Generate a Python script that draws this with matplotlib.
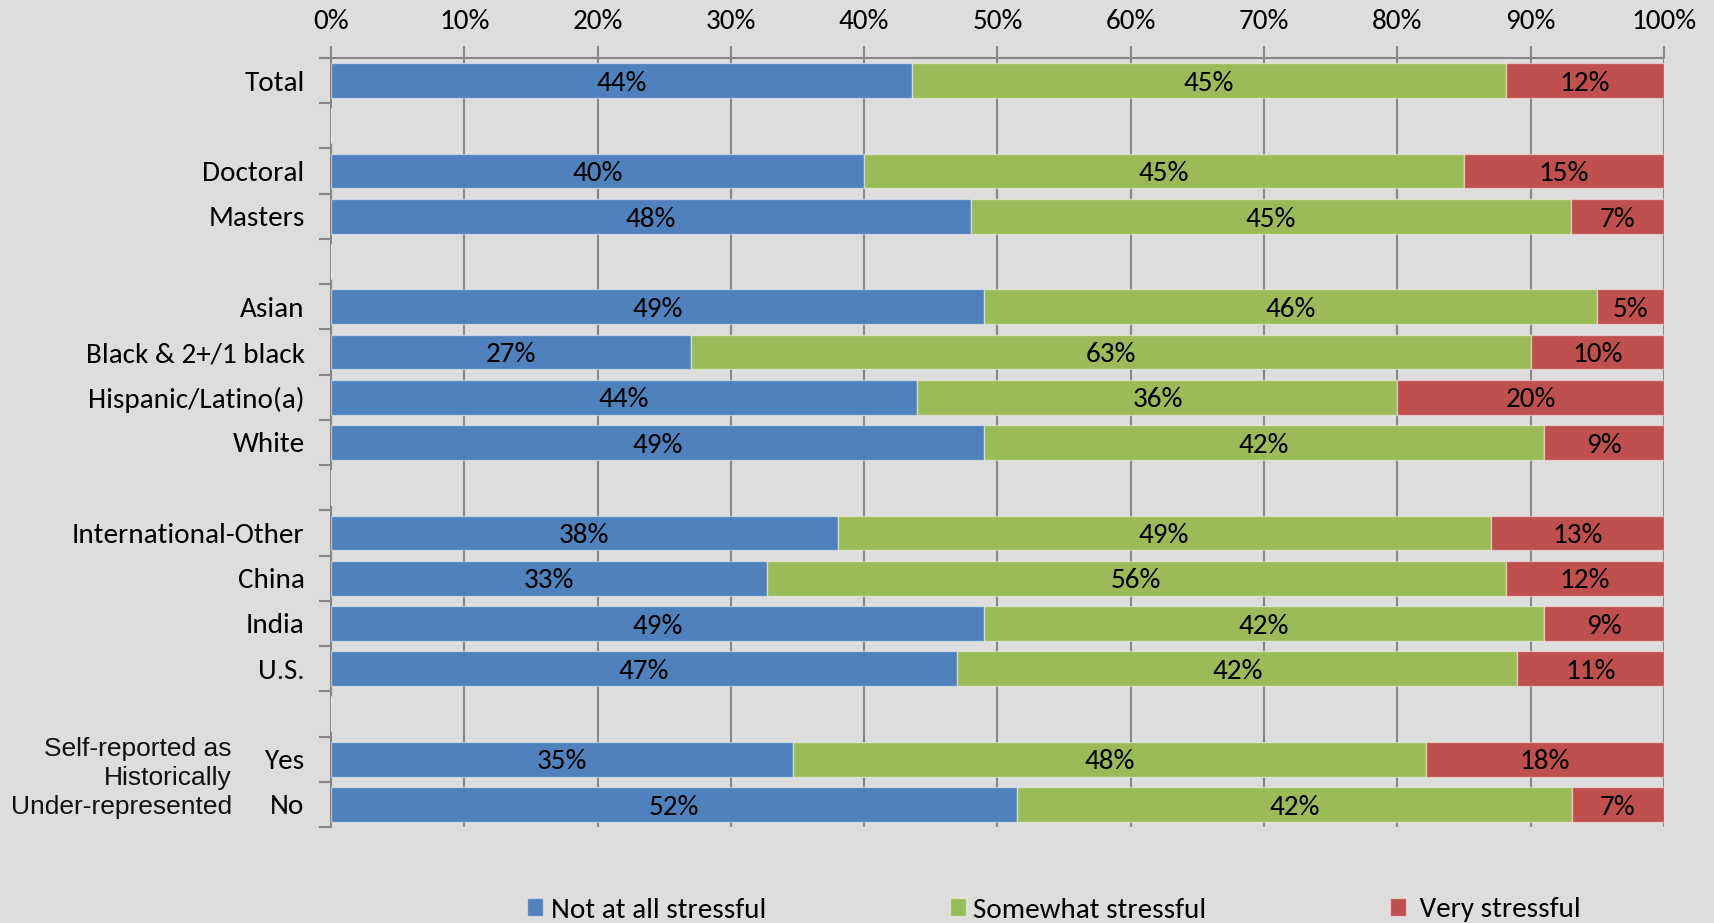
import matplotlib
matplotlib.use("Agg")
import matplotlib.pyplot as plt
import numpy as np

# Survey groups, top to bottom (blank strings are spacer rows)
groups = ["Total", "", "Doctoral", "Masters", "", "Asian", "Black & 2+/1 black",
          "Hispanic/Latino(a)", "White", "", "International-Other", "China",
          "India", "U.S.", "", "Yes", "No"]

# Percent of respondents per response level (NaN for spacer rows)
not_at_all = [44, np.nan, 40, 48, np.nan, 49, 27, 44, 49, np.nan, 38, 33, 49, 47, np.nan, 35, 52]
somewhat = [45, np.nan, 45, 45, np.nan, 46, 63, 36, 42, np.nan, 49, 56, 42, 42, np.nan, 48, 42]
very = [12, np.nan, 15, 7, np.nan, 5, 10, 20, 9, np.nan, 13, 12, 9, 11, np.nan, 18, 7]

series_names = ["Not at all stressful", "Somewhat stressful", " Very stressful"]
series_colors = ["#4F81BD", "#9BBB59", "#C0504D"]
x_ticks = [0, 10, 20, 30, 40, 50, 60, 70, 80, 90, 100]
group_note = "Self-reported as\nHistorically\nUnder-represented"

BG = "#DDDDDD"
AXIS_GRAY = "#868686"
FS = 21
FONT = ["Carlito", "Lato", "DejaVu Sans"]
plt.rcParams["font.family"] = FONT

fig = plt.figure(figsize=(17.14, 9.23), dpi=100, facecolor=BG)
ax = fig.add_axes([0.1931, 0.104, 0.7777, 0.8332], facecolor=BG)

values = np.array([not_at_all, somewhat, very], dtype=float)
totals = np.nansum(values, axis=0)
shares = np.where(totals > 0, values / np.where(totals > 0, totals, 1) * 100, np.nan)

y = np.arange(len(groups))
left = np.zeros(len(groups))
handles = []
for k in range(3):
    w = np.nan_to_num(shares[k])
    bars = ax.barh(y, w, left=left, height=0.77, color=series_colors[k],
                   edgecolor=(1, 1, 1, 0.45), linewidth=1, zorder=3,
                   label=series_names[k])
    handles.append(bars)
    for i in range(len(groups)):
        if not np.isnan(values[k][i]):
            ax.text(left[i] + w[i] / 2, y[i] + 0.06, f"{values[k][i]:.0f}%",
                    ha="center", va="center", fontsize=FS, color="black", zorder=4)
    left = left + w

ax.set_xlim(0, 100)
ax.set_ylim(len(groups) - 0.5, -0.5)

# Percent axis along the top
ax.xaxis.tick_top()
ax.set_xticks(x_ticks)
ax.set_xticklabels([f"{t}%" for t in x_ticks], fontsize=FS)
ax.tick_params(axis="x", direction="out", length=9, width=1.5, color=AXIS_GRAY,
               pad=8, labelcolor="black")
ax.grid(axis="x", color=AXIS_GRAY, linewidth=1.5, zorder=1)

# Category labels at bar centres, tick marks at category boundaries
ax.set_yticks(y)
ax.set_yticklabels(groups, fontsize=FS)
ax.tick_params(axis="y", which="major", length=0, pad=19, labelcolor="black")
ax.set_yticks(np.arange(len(groups) + 1) - 0.5, minor=True)
ax.tick_params(axis="y", which="minor", direction="out", length=9, width=1.5,
               color=AXIS_GRAY)

for side in ["right", "bottom"]:
    ax.spines[side].set_visible(False)
for side in ["top", "left"]:
    ax.spines[side].set_color(AXIS_GRAY)
    ax.spines[side].set_linewidth(1.5)

fig.text(232 / 1714, 1 - 778 / 923, group_note, ha="right", va="center",
         fontsize=19, family=["Liberation Sans", "DejaVu Sans"],
         linespacing=1.26, color="#111111")

leg = fig.legend(handles=handles, loc="center", ncol=3, frameon=False,
                 bbox_to_anchor=(0.615, 1 - 910 / 923), fontsize=FS,
                 handlelength=0.55, handleheight=0.6, handletextpad=0.25,
                 columnspacing=6.3)

fig.savefig("out.png", dpi=100, facecolor=BG)
